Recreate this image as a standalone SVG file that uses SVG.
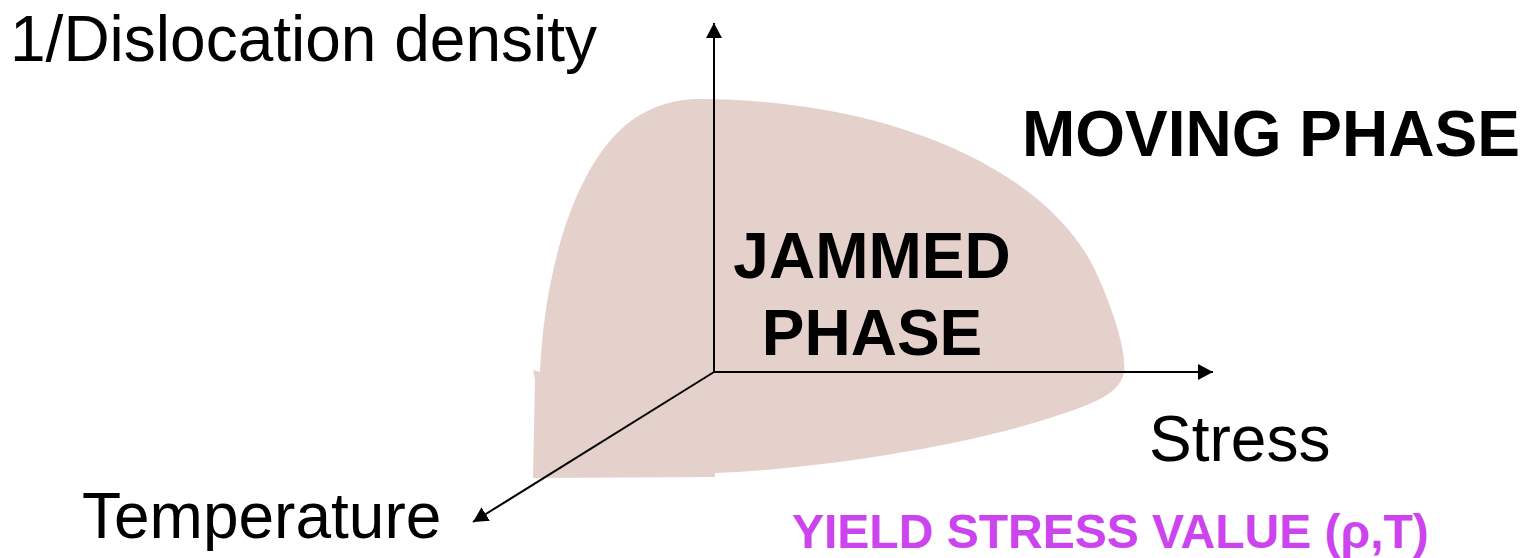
<svg xmlns="http://www.w3.org/2000/svg" width="1526" height="558" viewBox="0 0 1526 558">
<style>
.lbl{font-family:"Liberation Sans",Arial,sans-serif;fill:#000}
.bold{font-weight:bold}
.axis{stroke:#000;stroke-width:2;fill:none}
</style>
<defs>
<marker id="ah" markerUnits="userSpaceOnUse" markerWidth="16" markerHeight="16" refX="15" refY="8" orient="auto">
<path d="M0,0 L15,8 L0,16 z" fill="#000"/>
</marker>
</defs>
<rect width="1526" height="558" fill="#fff"/>
<g id="jammed-region">
<path d="M700,99 C900,100 1050,175 1095,270 C1118,320 1126,355 1124,372 C1120,395 1090,405 1050,418 C950,450 800,470 715,473 L715,477 L533,478 L535,380 L533,370 L540,372 C545,260 580,150 640,115 C665,101 685,99 700,99 Z" fill="#E5D1CC"/>
</g>
<g id="connectors">
<line class="axis" x1="714" y1="372" x2="714" y2="23" marker-end="url(#ah)"/>
<line class="axis" x1="714" y1="372" x2="1213" y2="372" marker-end="url(#ah)"/>
<line class="axis" x1="714" y1="372" x2="473" y2="522" marker-end="url(#ah)"/>
</g>
<g id="label-dislocation"><text class="lbl" x="10" y="61" font-size="64">1/Dislocation density</text></g>
<g id="label-moving"><text class="lbl bold" x="1022" y="156" font-size="64">MOVING PHASE</text></g>
<g id="label-jammed"><text class="lbl bold" x="872" y="278" font-size="64" text-anchor="middle">JAMMED</text><text class="lbl bold" x="872" y="355" font-size="64" text-anchor="middle">PHASE</text></g>
<g id="label-stress"><text class="lbl" x="1149" y="461" font-size="64">Stress</text></g>
<g id="label-temperature"><text class="lbl" x="82" y="538" font-size="64">Temperature</text></g>
<g id="label-yield"><text class="lbl bold" x="792" y="548" font-size="48" style="fill:#CC44EE">YIELD STRESS VALUE (ρ,T)</text></g>
</svg>
